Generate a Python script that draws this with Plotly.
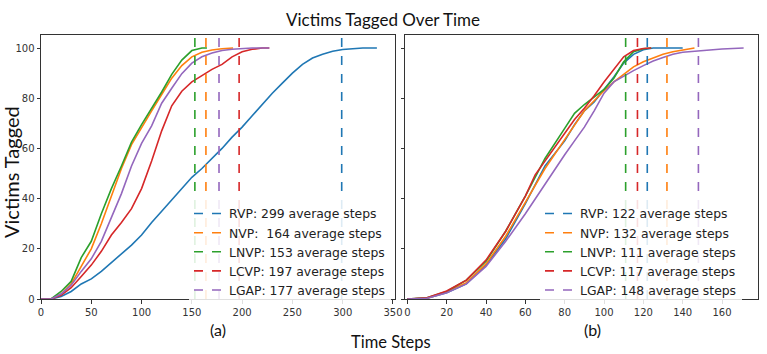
import plotly.graph_objects as go

# ---- data ------------------------------------------------------------------
names = ["RVP", "NVP", "LNVP", "LCVP", "LGAP"]
colors = ["#1f77b4", "#ff7f0e", "#2ca02c", "#d62728", "#9467bd"]

# (a) left panel
a_rvp_x = [0, 10, 20, 30, 40, 50, 60, 70, 80, 90, 100, 110, 120, 130, 140, 150, 160, 170,
           180, 190, 200, 210, 220, 230, 240, 250, 260, 270, 280, 290, 300, 310, 320, 334]
a_rvp_y = [0, 0, 1, 3, 6, 8, 11, 14.5, 18, 21.5, 25.5, 30.5, 35, 39.5, 44, 48.5, 52, 56,
           60, 64.5, 68.5, 73, 77.5, 82, 86, 90, 93.5, 96, 97.5, 98.7, 99.4, 99.8, 100, 100]
a_nvp_x = [0, 10, 20, 30, 40, 50, 60, 70, 80, 90, 100, 110, 120, 130, 140, 150, 160, 170, 180, 191]
a_nvp_y = [0, 0, 2, 6, 13, 20, 30, 41, 52, 61.5, 68.5, 75, 81.5, 88, 93, 96.5, 98.3, 99.2, 99.7, 100]
a_lnvp_x = [0, 10, 20, 30, 40, 45, 50, 60, 70, 80, 90, 100, 110, 120, 130, 140, 150, 160, 165]
a_lnvp_y = [0, 0, 3, 7, 16.5, 20, 23, 34, 44, 53, 62.5, 69.5, 75.8, 82.5, 89.5, 95.2, 99, 100, 100]
a_lcvp_x = [0, 10, 20, 30, 40, 50, 60, 70, 80, 90, 100, 110, 120, 130, 140, 150, 160, 170,
            180, 190, 200, 210, 220, 227]
a_lcvp_y = [0, 0, 1.5, 4.5, 9, 13.5, 19, 25.5, 30.5, 36, 44, 55, 67, 77, 82.8, 86.5, 89, 91.5,
            93.5, 96.5, 98.5, 99.5, 100, 100]
a_lgap_x = [0, 10, 20, 30, 40, 50, 60, 70, 80, 90, 100, 110, 120, 130, 140, 150, 160, 170,
            180, 190, 200, 210, 227]
a_lgap_y = [0, 0, 2, 5.5, 11, 16, 23, 32.5, 42, 53, 62, 69, 78, 84, 89.8, 94, 96.5, 98,
            99, 99.5, 99.8, 100, 100]
a_avg = [299, 164, 153, 197, 177]

# (b) right panel
b_rvp_x = [0, 10, 20, 30, 40, 50, 60, 70, 80, 85, 90, 95, 100, 105, 110, 115, 120, 125, 140]
b_rvp_y = [0, 0.3, 2.5, 6, 13.5, 24, 38, 53, 63, 69.5, 75, 78.5, 83.5, 88.5, 94, 97.5, 99.3, 100, 100]
b_nvp_x = [0, 10, 20, 30, 40, 50, 60, 70, 80, 85, 90, 95, 100, 105, 110, 115, 120, 125, 130, 135, 140, 146]
b_nvp_y = [0, 0.3, 2.8, 6.5, 14, 25, 38.5, 52, 63.5, 69.5, 75, 79, 83, 86.5, 89.5, 92.5, 94.5,
           96, 97.5, 98.5, 99.3, 100]
b_lnvp_x = [0, 10, 20, 30, 40, 50, 60, 70, 80, 85, 90, 95, 100, 105, 110, 115, 120, 124]
b_lnvp_y = [0, 0.5, 3, 7.5, 15, 27, 41, 56, 68, 74, 77.5, 80.5, 83.5, 88, 94.5, 98.5, 99.7, 100]
b_lcvp_x = [0, 10, 20, 30, 40, 50, 55, 60, 65, 70, 75, 80, 85, 90, 95, 100, 105, 110, 115, 120, 124]
b_lcvp_y = [0, 0.5, 3.2, 7.5, 15.5, 27, 34, 41, 49.5, 55, 60.5, 66, 71.5, 76, 81, 86.5, 91.5,
            96.5, 99, 99.8, 100]
b_lgap_x = [0, 10, 20, 30, 40, 50, 60, 70, 80, 85, 90, 95, 100, 105, 110, 115, 120, 125, 130,
            135, 140, 150, 160, 171]
b_lgap_y = [0, 0.3, 2.5, 6, 13, 23, 34, 46, 57.5, 63, 68.5, 75, 82, 86.5, 88.8, 91, 93, 94.8,
            96.2, 97.5, 98.3, 99, 99.6, 100]
b_avg = [122, 132, 111, 117, 148]

a_curves = [(a_rvp_x, a_rvp_y), (a_nvp_x, a_nvp_y), (a_lnvp_x, a_lnvp_y),
            (a_lcvp_x, a_lcvp_y), (a_lgap_x, a_lgap_y)]
b_curves = [(b_rvp_x, b_rvp_y), (b_nvp_x, b_nvp_y), (b_lnvp_x, b_lnvp_y),
            (b_lcvp_x, b_lcvp_y), (b_lgap_x, b_lgap_y)]

a_labels = ["RVP: 299 average steps", "NVP: \u00a0164 average steps", "LNVP: 153 average steps",
            "LCVP: 197 average steps", "LGAP: 177 average steps"]
b_labels = ["RVP: 122 average steps", "NVP: 132 average steps", "LNVP: 111 average steps",
            "LCVP: 117 average steps", "LGAP: 148 average steps"]

Y_TOP = 105.2
W, H = 767, 354
TEXT_FONT = "Lato"
TICK_FONT = "DejaVu Sans"


def px(x):
    return x / W


def py(y):
    return 1 - y / H


fig = go.Figure()

# curves
for (xs, ys), c in zip(a_curves, colors):
    fig.add_trace(go.Scatter(x=xs, y=ys, mode="lines", line=dict(color=c, width=1.6),
                             showlegend=False, xaxis="x", yaxis="y"))
for (xs, ys), c in zip(b_curves, colors):
    fig.add_trace(go.Scatter(x=xs, y=ys, mode="lines", line=dict(color=c, width=1.6),
                             showlegend=False, xaxis="x2", yaxis="y2"))

# average-step dashed lines (legend entries)
for v, c, lab in zip(a_avg, colors, a_labels):
    fig.add_trace(go.Scatter(x=[v, v], y=[0, Y_TOP], mode="lines", name=lab,
                             line=dict(color=c, width=1.6, dash="dash"),
                             xaxis="x", yaxis="y", legend="legend"))
for v, c, lab in zip(b_avg, colors, b_labels):
    fig.add_trace(go.Scatter(x=[v, v], y=[0, Y_TOP], mode="lines", name=lab,
                             line=dict(color=c, width=1.6, dash="dash"),
                             xaxis="x2", yaxis="y2", legend="legend2"))

axis_common = dict(showline=True, mirror=True, linecolor="#333", linewidth=1,
                   ticks="outside", ticklen=3.5, tickcolor="#333", showgrid=False,
                   zeroline=False, automargin=False,
                   tickfont=dict(family=TICK_FONT, size=10, color="#333"))

y_dom = [py(299), py(35)]
legend_common = dict(bgcolor="rgba(255,255,255,0.85)", borderwidth=0,
                     font=dict(family=TICK_FONT, size=12.4, color="#222"),
                     itemwidth=30, yanchor="top", xanchor="left", tracegroupgap=0)


def label(text, x, y, size, angle=0):
    return dict(text=text, x=px(x), y=py(y), xref="paper", yref="paper",
                xanchor="center", yanchor="middle", textangle=angle, showarrow=False,
                font=dict(family=TEXT_FONT, size=size, color="#111"))


fig.update_layout(
    width=W, height=H,
    margin=dict(l=0, r=0, t=0, b=0, autoexpand=False),
    paper_bgcolor="white", plot_bgcolor="white",
    xaxis=dict(domain=[px(41), px(395)], range=[0, 352], tickvals=[0, 50, 100, 150, 200, 250, 300, 350],
               anchor="y", **axis_common),
    yaxis=dict(domain=y_dom, range=[0, Y_TOP], tickvals=[0, 20, 40, 60, 80, 100],
               anchor="x", **axis_common),
    xaxis2=dict(domain=[px(405), px(758)], range=[-1.2, 178.3],
                tickvals=[0, 20, 40, 60, 80, 100, 120, 140, 160], anchor="y2", **axis_common),
    yaxis2=dict(domain=y_dom, range=[0, Y_TOP], tickvals=[0, 20, 40, 60, 80, 100],
                showticklabels=False, anchor="x2", **axis_common),
    legend=dict(x=px(189), y=py(199), **legend_common),
    legend2=dict(x=px(540), y=py(199), **legend_common),
    annotations=[
        label("Victims Tagged Over Time", 383, 19, 17),
        label("Victims Tagged", 11, 172, 20, angle=-90),
        label("Time Steps", 391, 342, 16.5),
        label("(a)", 218, 329, 16),
        label("(b)", 592, 329, 16),
    ],
)

# drop the default 8px page margin so the figure sits at the window corner
fig.write_html("out.html", config={"displayModeBar": False},
               post_script="document.body.style.margin='0';")
